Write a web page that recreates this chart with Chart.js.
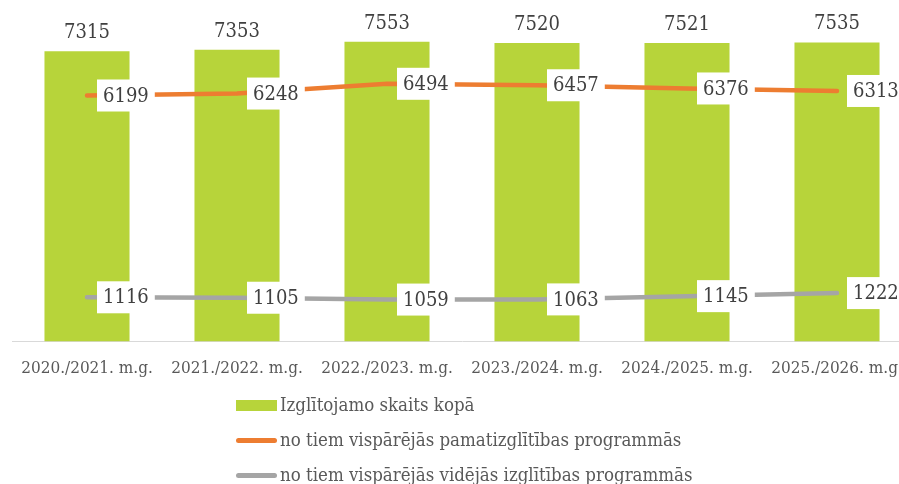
<!DOCTYPE html>
<html>
<head>
<meta charset="utf-8">
<script src="https://cdn.jsdelivr.net/npm/chart.js@4"></script>
<style>
html,body{margin:0;padding:0;background:#fff;overflow:hidden;width:899px;height:484px;}
#wrap{position:absolute;left:0;top:0;width:915px;height:398px;}
#legend{position:absolute;left:236px;top:388px;font-family:"DejaVu Serif Condensed","DejaVu Serif",serif;font-size:18.5px;color:#595959;}
.item{position:absolute;left:0;height:35px;white-space:nowrap;}
.sym{position:absolute;left:0;width:41px;}
.txt{position:absolute;left:44px;line-height:22px;}
</style>
</head>
<body>
<div id="wrap"><canvas id="c"></canvas></div>
<div id="legend"></div>
<script>
const categories = ["2020./2021. m.g.","2021./2022. m.g.","2022./2023. m.g.","2023./2024. m.g.","2024./2025. m.g.","2025./2026. m.g."];
const totalValues = [7315, 7353, 7553, 7520, 7521, 7535];
const basicValues = [6199, 6248, 6494, 6457, 6376, 6313];
const secondaryValues = [1116, 1105, 1059, 1063, 1145, 1222];
const seriesNames = ["Izglītojamo skaits kopā","no tiem vispārējās pamatizglītības programmās","no tiem vispārējās vidējās izglītības programmās"];
const colors = ["#B7D43A","#ED7D31","#A5A5A5"];
const FONT = '"DejaVu Serif Condensed","DejaVu Serif",serif';

const labelPlugin = {
  id: 'labels',
  afterDatasetsDraw(chart) {
    const ctx = chart.ctx;
    ctx.save();
    ctx.font = '20px ' + FONT;
    ctx.fillStyle = '#404040';
    const barMeta = chart.getDatasetMeta(0);
    ctx.textAlign = 'center';
    ctx.textBaseline = 'alphabetic';
    barMeta.data.forEach((el, i) => {
      ctx.fillText(String(chart.data.datasets[0].data[i]), el.x, el.y - 13);
    });
    [1, 2].forEach(di => {
      const meta = chart.getDatasetMeta(di);
      meta.data.forEach((el, i) => {
        const t = String(chart.data.datasets[di].data[i]);
        const w = ctx.measureText(t).width;
        ctx.fillStyle = '#ffffff';
        ctx.fillRect(el.x + 10, el.y - 16, w + 12, 32);
        ctx.fillStyle = '#404040';
        ctx.textAlign = 'left';
        ctx.textBaseline = 'middle';
        ctx.fillText(t, el.x + 16, el.y + 1);
      });
    });
    ctx.restore();
  }
};

new Chart(document.getElementById('c'), {
  data: {
    labels: categories,
    datasets: [
      { type: 'bar', label: seriesNames[0], data: totalValues, backgroundColor: colors[0], order: 3,
        categoryPercentage: 1, barPercentage: 0.567 },
      { type: 'line', label: seriesNames[1], data: basicValues, borderColor: colors[1], borderWidth: 4.5,
        borderCapStyle: 'round', pointRadius: 0, tension: 0, order: 2 },
      { type: 'line', label: seriesNames[2], data: secondaryValues, borderColor: colors[2], borderWidth: 4.5,
        borderCapStyle: 'round', pointRadius: 0, tension: 0, order: 1 }
    ]
  },
  options: {
    responsive: true,
    maintainAspectRatio: false,
    animation: false,
    layout: { padding: { left: 12, right: 3, top: 24, bottom: 10 } },
    plugins: { legend: { display: false }, tooltip: { enabled: false } },
    scales: {
      x: {
        offset: true,
        grid: { display: false },
        border: { display: true, color: '#D9D9D9', width: 1 },
        ticks: { color: '#595959', font: { family: FONT, size: 17 }, padding: 9, maxRotation: 0, autoSkip: false }
      },
      y: { display: false, min: 0, max: 8000 }
    }
  },
  plugins: [labelPlugin]
});

const lg = document.getElementById('legend');
seriesNames.forEach((name, i) => {
  const it = document.createElement('div');
  it.className = 'item';
  it.style.top = (i * 35) + 'px';
  const s = document.createElement('div');
  s.className = 'sym';
  if (i === 0) { s.style.top = '12px'; s.style.height = '11px'; s.style.background = colors[0]; }
  else { s.style.top = '15px'; s.style.height = '5px'; s.style.borderRadius = '3px'; s.style.background = colors[i]; }
  const t = document.createElement('div');
  t.className = 'txt';
  t.style.top = '6px';
  t.textContent = name;
  it.appendChild(s); it.appendChild(t);
  lg.appendChild(it);
});
</script>
</body>
</html>
